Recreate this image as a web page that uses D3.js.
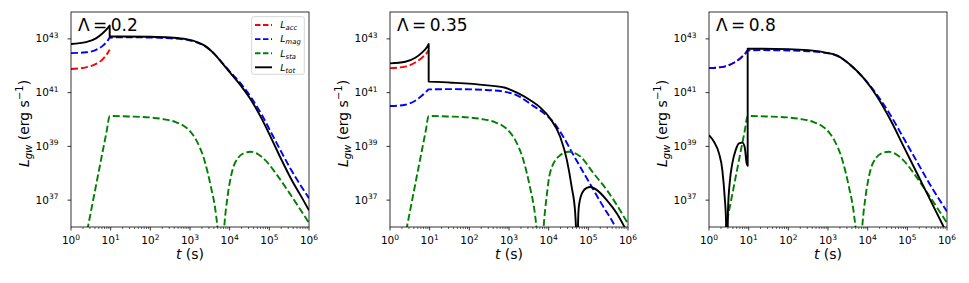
<!DOCTYPE html>
<html><head><meta charset="utf-8">
<script src="https://cdn.jsdelivr.net/npm/d3@7"></script>
<style>
body{margin:0;background:#fff}
svg{display:block}
text{font-family:"DejaVu Sans",sans-serif;fill:#000}
</style>
</head><body><svg id="c" width="969" height="283"></svg>
<script>
// ---- data (log10 t [s], log10 L [erg/s]) ----
const panelTitles = ["Λ\u2009=\u20090.2", "Λ\u2009=\u20090.35", "Λ\u2009=\u20090.8"];
const xTickExps = [0, 1, 2, 3, 4, 5, 6];
const yTickExps = [37, 39, 41, 43];
const legendNames = ["acc", "mag", "sta", "tot"];

const acc1 = [[0,41.88],[0.378,41.94],[0.63,42.07],[0.798,42.24],[0.924,42.47],[0.975,42.6]];
const mag1 = [[0,42.47],[0.378,42.5],[0.63,42.59],[0.798,42.74],[0.924,42.93],[0.975,43.04],[1.3,43.06],[2.0,43.05],[2.5,43.02],[2.9,42.97],[3.2,42.85],[3.4,42.71],[3.6,42.46],[3.8,42.13],[4.0,41.79],[4.3,41.3],[4.55,40.8],[4.8,40.2],[5.05,39.5],[5.3,38.8],[5.56,38.1],[5.81,37.5],[6.0,37.07]];
const sta1 = [[0.36,35.5],[0.9,39.57],[0.975,40.13],[1.5,40.11],[1.97,40.08],[2.3,40.02],[2.645,39.9],[2.9,39.7],[3.02,39.53],[3.15,39.25],[3.36,38.5],[3.526,37.5],[3.652,36.5],[3.694,35.94],[3.73,35.0],[3.82,35.0],[3.86,35.94],[3.946,37.12],[4.05,38.0],[4.215,38.58],[4.38,38.76],[4.53,38.8],[4.7,38.72],[4.89,38.5],[5.2,37.92],[5.5,37.28],[5.83,36.54],[6.0,36.15]];
const tot1 = [[0,42.81],[0.378,42.88],[0.63,43.02],[0.798,43.21],[0.924,43.40],[0.975,43.5],[0.975,43.09],[1.3,43.09],[2.0,43.08],[2.5,43.05],[2.9,42.99],[3.2,42.87],[3.4,42.72],[3.6,42.46],[3.8,42.12],[4.0,41.76],[4.3,41.22],[4.55,40.7],[4.8,40.05],[5.05,39.3],[5.3,38.52],[5.56,37.76],[5.81,37.12],[6.0,36.62]];

const acc2 = [[0,41.91],[0.386,41.97],[0.638,42.12],[0.806,42.30],[0.93,42.48],[0.975,42.58]];
const mag2 = [[0,40.5],[0.386,40.55],[0.638,40.70],[0.806,40.89],[0.93,41.06],[0.975,41.12],[1.56,41.13],[2.40,41.10],[2.904,41.03],[3.24,40.87],[3.576,40.54],[3.91,40.2],[4.163,39.82],[4.31,39.5],[4.65,38.61],[4.99,37.74],[5.33,36.87],[5.68,36.0],[5.8,35.6]];
const sta2 = [[0.36,35.5],[0.9,39.57],[0.975,40.13],[1.5,40.11],[1.97,40.08],[2.3,40.02],[2.645,39.9],[2.9,39.7],[3.02,39.53],[3.15,39.25],[3.36,38.5],[3.526,37.5],[3.652,36.5],[3.694,35.94],[3.73,35.0],[3.83,35.0],[3.87,35.94],[3.95,37.15],[4.04,38.05],[4.29,38.67],[4.50,38.8],[4.79,38.63],[5.13,38.0],[5.47,37.37],[5.80,36.62],[6.0,36.12]];
const tot2 = [[0,42.09],[0.386,42.15],[0.638,42.30],[0.806,42.49],[0.93,42.69],[0.975,42.81],[0.975,41.41],[1.56,41.37],[2.40,41.28],[2.904,41.18],[3.24,40.97],[3.576,40.68],[3.786,40.45],[4.038,40.04],[4.29,39.36],[4.46,38.49],[4.58,37.49],[4.67,36.5],[4.705,35.5],[4.72,35.0],[4.728,35.0],[4.742,36.2],[4.76,36.75],[4.835,37.24],[4.96,37.46],[5.05,37.49],[5.21,37.38],[5.47,36.99],[5.72,36.5],[5.89,36.06],[6.0,35.75]];

const acc3 = [[0,41.91],[0.386,41.97],[0.638,42.12],[0.806,42.30],[0.93,42.48],[0.975,42.58]];
const mag3 = [[0,41.91],[0.386,41.97],[0.638,42.12],[0.806,42.30],[0.93,42.48],[0.975,42.57],[1.3,42.58],[2.0,42.57],[2.5,42.54],[2.9,42.49],[3.233,42.37],[3.569,42.02],[3.904,41.53],[4.24,40.91],[4.576,40.16],[4.912,39.29],[5.247,38.42],[5.583,37.55],[6.0,36.58]];
const sta3 = [[0.36,35.5],[0.9,39.57],[0.975,40.13],[1.5,40.11],[1.97,40.08],[2.3,40.02],[2.645,39.9],[2.9,39.7],[3.02,39.53],[3.15,39.25],[3.36,38.5],[3.526,37.5],[3.652,36.5],[3.694,35.94],[3.73,35.0],[3.82,35.0],[3.86,35.94],[3.946,37.12],[4.05,38.0],[4.215,38.58],[4.38,38.76],[4.53,38.8],[4.7,38.72],[4.89,38.5],[5.2,37.92],[5.5,37.28],[5.83,36.54],[6.0,36.15]];
const tot3 = [[0,39.42],[0.126,39.17],[0.252,38.74],[0.336,38.12],[0.395,37.12],[0.43,36.2],[0.448,35.0],[0.462,35.0],[0.479,36.63],[0.529,37.75],[0.588,38.37],[0.672,38.86],[0.756,39.11],[0.84,39.14],[0.898,38.99],[0.949,38.37],[0.975,38.28],[0.975,42.63],[1.3,42.63],[2.0,42.62],[2.5,42.58],[2.9,42.5],[3.233,42.38],[3.569,42.03],[3.904,41.53],[4.24,40.85],[4.576,39.98],[4.912,38.98],[5.247,37.99],[5.583,36.99],[5.877,36.12],[6.0,35.75]];

const panelSeries = [
  [acc1, mag1, sta1, tot1],
  [acc2, mag2, sta2, tot2],
  [acc3, mag3, sta3, tot3]
];

// ---- styles / layout ----
const colors = ["#ff0000", "#0000ff", "#008000", "#000000"];
const dashes = ["7,3", "7,3", "7,3", null];
const lineW = 1.9;
const panelLeft = [71, 390, 709];
const plotTop = 12, W = 238, H = 215;

const svg = d3.select("#c");
const x = d3.scaleLog().domain([1, 1e6]).range([0, W]);
const y = d3.scaleLog().domain([1e36, 1e44]).range([H, 0]);
const line = d3.line().x(d => x(Math.pow(10, d[0]))).y(d => y(Math.pow(10, d[1]))).curve(d3.curveMonotoneX);

function pathFor(data) {
  const pieces = []; let cur = [data[0]];
  for (let i = 1; i < data.length; i++) {
    if (data[i][0] === data[i - 1][0]) { pieces.push(cur); cur = [data[i]]; }
    else cur.push(data[i]);
  }
  pieces.push(cur);
  return pieces.map((p, i) => { const s = line(p); return i ? s.replace(/^M/, "L") : s; }).join("");
}

panelSeries.forEach((series, pi) => {
  const g = svg.append("g").attr("transform", `translate(${panelLeft[pi]},${plotTop})`);
  const cid = "clip" + pi;
  g.append("clipPath").attr("id", cid).append("rect").attr("x", 0).attr("y", 0).attr("width", W).attr("height", H);

  const pg = g.append("g").attr("clip-path", `url(#${cid})`);
  series.forEach((data, si) => {
    pg.append("path").attr("d", pathFor(data)).attr("fill", "none")
      .attr("stroke", colors[si]).attr("stroke-width", lineW)
      .attr("stroke-dasharray", dashes[si]).attr("stroke-linejoin", "round");
  });

  // frame
  g.append("rect").attr("x", 0).attr("y", 0).attr("width", W).attr("height", H)
    .attr("fill", "none").attr("stroke", "#000").attr("stroke-width", 0.8);

  // x ticks
  xTickExps.forEach(e => {
    const xv = x(Math.pow(10, e));
    g.append("line").attr("x1", xv).attr("x2", xv).attr("y1", H).attr("y2", H + 3.5).attr("stroke", "#000").attr("stroke-width", 0.8);
    const t = g.append("text").attr("x", xv).attr("y", H + 17.3).attr("text-anchor", "middle").attr("font-size", 10.5);
    t.append("tspan").text("10");
    t.append("tspan").attr("dy", -4.5).attr("font-size", 7.5).text(e);
    if (e < 6) {
      for (let m = 2; m <= 9; m++) {
        const xm = x(m * Math.pow(10, e));
        g.append("line").attr("x1", xm).attr("x2", xm).attr("y1", H).attr("y2", H + 2).attr("stroke", "#000").attr("stroke-width", 0.6);
      }
    }
  });
  // y ticks
  yTickExps.forEach(e => {
    const yv = y(Math.pow(10, e));
    g.append("line").attr("x1", 0).attr("x2", -3.5).attr("y1", yv).attr("y2", yv).attr("stroke", "#000").attr("stroke-width", 0.8);
    const t = g.append("text").attr("x", -12.5).attr("y", yv + 3.5).attr("text-anchor", "end").attr("font-size", 10.5);
    t.append("tspan").text("10");
    t.append("tspan").attr("dy", -4.5).attr("font-size", 7.5).text(e);
  });

  // panel title
  g.append("text").attr("x", 7).attr("y", 18.5).attr("font-size", 17).text(panelTitles[pi]);

  // x label
  const xl = g.append("text").attr("x", W / 2).attr("y", H + 32).attr("text-anchor", "middle").attr("font-size", 14);
  xl.append("tspan").attr("font-style", "italic").text("t");
  xl.append("tspan").text(" (s)");

  // y label
  const yl = g.append("text").attr("transform", `translate(-42.5,${H / 2 + 4}) rotate(-90)`).attr("text-anchor", "middle").attr("font-size", 14);
  yl.append("tspan").attr("font-style", "italic").text("L");
  yl.append("tspan").attr("font-style", "italic").attr("font-size", 10).attr("dy", 3).text("gw");
  yl.append("tspan").attr("dy", -3).text(" (erg s");
  yl.append("tspan").attr("font-size", 10).attr("dy", -5.5).text("\u22121");
  yl.append("tspan").attr("dy", 5.5).text(")");

  // legend (first panel)
  if (pi === 0) {
    const lg = g.append("g").attr("transform", "translate(180.7,4.7)");
    lg.append("rect").attr("width", 52.6).attr("height", 57.6).attr("rx", 2)
      .attr("fill", "#fff").attr("fill-opacity", 0.8).attr("stroke", "#cccccc").attr("stroke-width", 0.8);
    legendNames.forEach((n, i) => {
      const ry = 8.3 + i * 14.1;
      lg.append("line").attr("x1", 3.3).attr("x2", 20.3).attr("y1", ry).attr("y2", ry)
        .attr("stroke", colors[i]).attr("stroke-width", lineW).attr("stroke-dasharray", i < 3 ? "5.5,2.5" : null);
      const tx = lg.append("text").attr("x", 28.6).attr("y", ry + 3.4).attr("font-size", 9.5);
      tx.append("tspan").attr("font-style", "italic").text("L");
      tx.append("tspan").attr("font-style", "italic").attr("font-size", 6.8).attr("dy", 2).text(n);
    });
  }
});
</script>
</body></html>
